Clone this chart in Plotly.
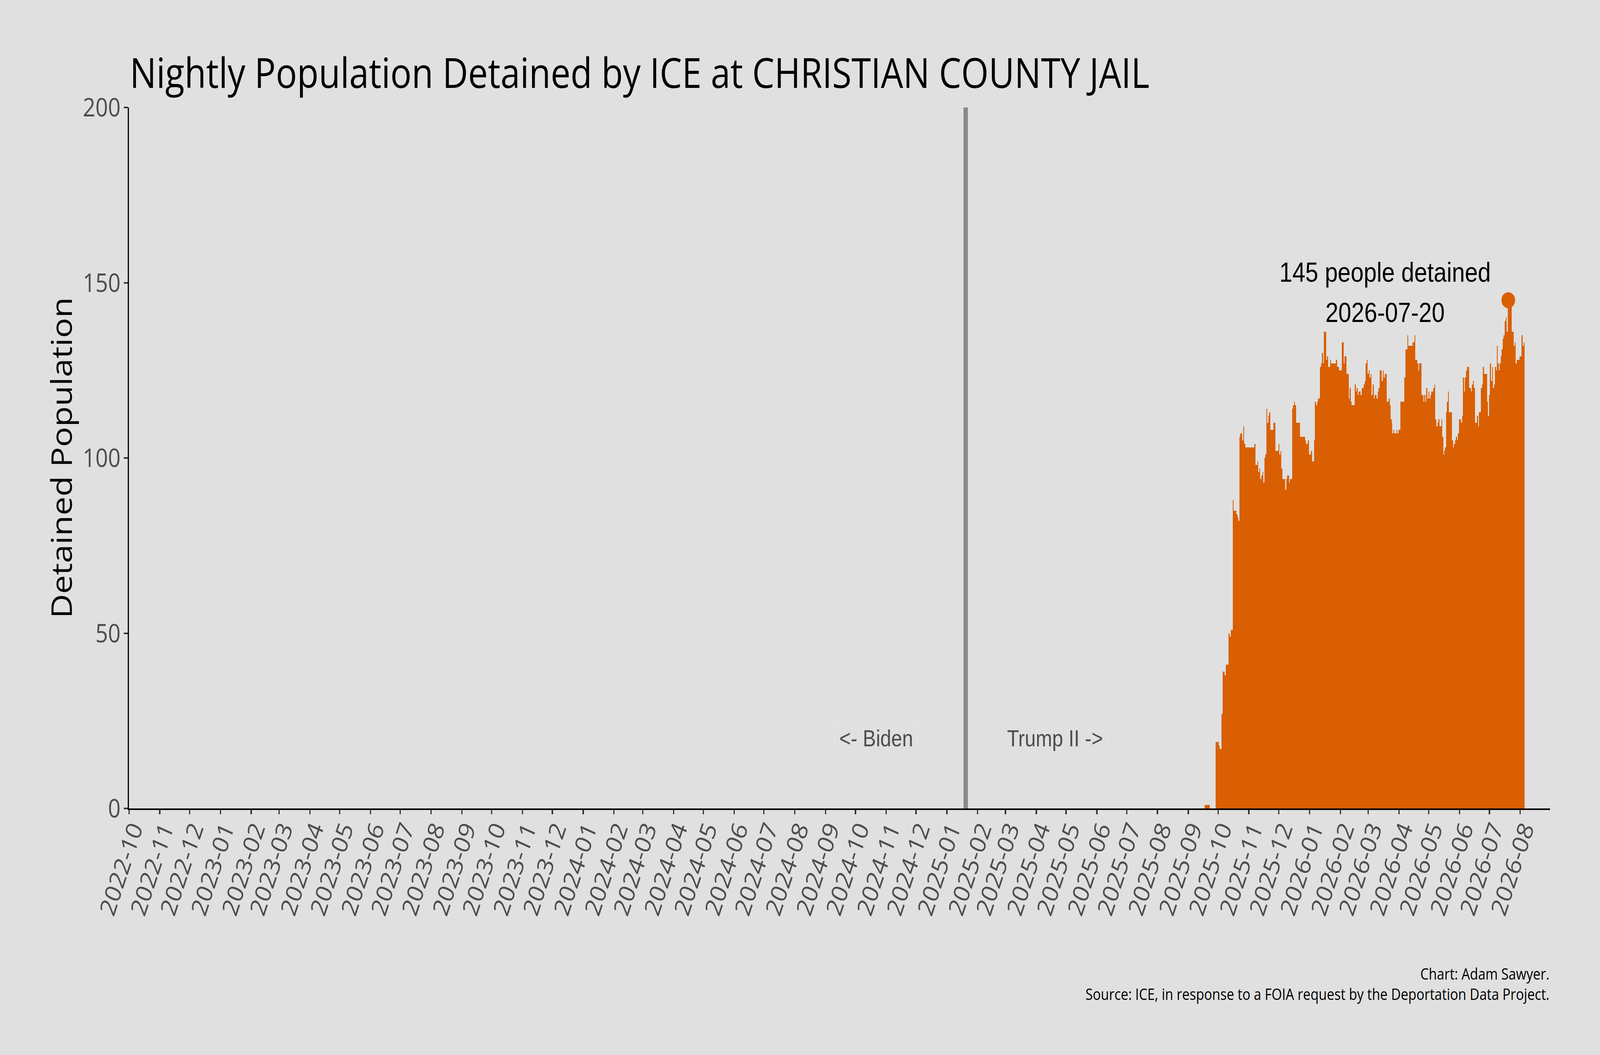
import pandas as pd
import plotly.graph_objects as go

# ---------------- data ----------------
first_date = "2025-09-18"
sep_2025 = [1, 1, 1, 1, 1, 0, 0, 0, 0, 0, 0, 19, 19]            # Sep 18 - Sep 30
oct_2025 = [19, 18, 17, 17, 27, 39, 39, 38, 41, 41, 41, 50, 49, 51, 51, 88,
            85, 85, 85, 84, 83, 82, 106, 107, 107, 105, 109, 104, 103, 103, 103]
nov_2025 = [103, 103, 103, 103, 103, 103, 104, 98, 98, 99, 96, 97, 94, 95, 96,
            93, 100, 101, 114, 110, 112, 113, 108, 108, 108, 110, 110, 102, 102, 102]
dec_2025 = [104, 101, 102, 97, 94, 94, 94, 91, 94, 95, 95, 93, 94, 94, 114, 115,
            116, 115, 110, 110, 110, 110, 106, 106, 106, 106, 106, 105, 104, 104, 105]
jan_2026 = [101, 101, 102, 99, 99, 105, 116, 115, 116, 117, 117, 126, 127, 130,
            127, 136, 136, 128, 129, 126, 126, 128, 127, 127, 127, 127, 127, 128,
            126, 126, 125]
feb_2026 = [125, 125, 133, 133, 127, 129, 129, 124, 124, 117, 120, 116, 115, 115,
            115, 121, 119, 120, 118, 119, 119, 118, 120, 120, 121, 122, 127, 128]
mar_2026 = [124, 125, 123, 124, 118, 121, 117, 118, 118, 117, 119, 120, 125, 125,
            122, 125, 123, 124, 124, 116, 116, 117, 115, 111, 110, 107, 108, 107,
            107, 108, 107]
apr_2026 = [108, 108, 116, 116, 116, 116, 123, 131, 131, 135, 132, 132, 132, 132,
            133, 133, 135, 128, 128, 127, 125, 127, 127, 118, 118, 116, 118, 116,
            120, 117]
may_2026 = [119, 117, 118, 119, 119, 120, 121, 111, 109, 110, 111, 109, 109, 111,
            106, 101, 102, 103, 113, 116, 119, 113, 113, 113, 105, 103, 104, 105,
            106, 105, 107]
jun_2026 = [111, 111, 110, 112, 123, 119, 123, 125, 126, 126, 120, 120, 119, 121,
            122, 120, 110, 110, 112, 109, 113, 113, 120, 121, 126, 124, 124, 124,
            116, 112]
jul_2026 = [118, 127, 122, 126, 120, 121, 126, 125, 132, 127, 125, 127, 129, 131,
            134, 135, 139, 140, 136, 145, 143, 143, 143, 136, 136, 132, 133, 127,
            128, 128, 128]
aug_2026 = [129, 129, 135, 132, 133]

population = (sep_2025 + oct_2025 + nov_2025 + dec_2025 + jan_2026 + feb_2026 +
              mar_2026 + apr_2026 + may_2026 + jun_2026 + jul_2026 + aug_2026)
dates = pd.date_range(first_date, periods=len(population), freq="D")

administration_change = "2025-01-20"
era_labels = ["<- Biden", "Trump II ->"]
era_label_dates = ["2024-10-22", "2025-04-20"]
era_label_value = 20

title_text = "Nightly Population Detained by ICE at CHRISTIAN COUNTY JAIL"
y_title = "Detained Population"
caption_lines = ["Chart: Adam Sawyer.",
                 "Source: ICE, in response to a FOIA request by the Deportation Data Project."]
peak_label_date = "2026-03-18"
peak_label_values = [152.9, 141.5]

x_range = ["2022-10-01", "2026-08-31"]
y_range = [0, 200]

# ---------------- styles ----------------
W, H = 4800, 2700
ORANGE = "#D95F02"
BG = "#E0E0E0"
SANS = "Open Sans"
ARIAL = "Liberation Sans"

peak_i = max(range(len(population)), key=lambda i: population[i])
peak_date = dates[peak_i]
peak_value = population[peak_i]

fig = go.Figure()
fig.add_trace(go.Bar(
    x=dates, y=population, width=86400000,
    marker=dict(color=ORANGE, line=dict(width=0)),
    hoverinfo="x+y",
))
fig.add_trace(go.Scatter(
    x=[peak_date], y=[peak_value], mode="markers",
    marker=dict(size=41, color=ORANGE, line=dict(width=0)),
))

fig.add_shape(type="line", xref="x", yref="y",
              x0=administration_change, x1=administration_change,
              y0=y_range[0], y1=y_range[1],
              line=dict(color="#888888", width=13), layer="below")

annotations = []
annotations.append(dict(text=title_text, xref="paper", yref="paper", x=0, y=1.051,
                        xanchor="left", yanchor="middle", showarrow=False,
                        font=dict(family=SANS, size=106, color="black")))
annotations.append(dict(text=y_title, xref="paper", yref="paper", x=-0.0482, y=0.5,
                        xanchor="center", yanchor="middle", textangle=-90, showarrow=False,
                        font=dict(family=SANS, size=86, color="black")))
for lab, d in zip(era_labels, era_label_dates):
    annotations.append(dict(text=lab, x=d, y=era_label_value, xref="x", yref="y",
                            xanchor="center", yanchor="middle", showarrow=False,
                            font=dict(family=ARIAL, size=59, color="#4D4D4D"),
                            bordercolor="#E4E4E4", borderwidth=2, borderpad=12))
peak_texts = [f"{peak_value} people detained", peak_date.strftime("%Y-%m-%d")]
for t, v in zip(peak_texts, peak_label_values):
    annotations.append(dict(text=t, x=peak_label_date, y=v, xref="x", yref="y",
                            xanchor="center", yanchor="middle", showarrow=False,
                            font=dict(family=ARIAL, size=70, color="black")))
annotations.append(dict(text="<br>".join(caption_lines), xref="paper", yref="paper",
                        x=1, y=-0.25, xanchor="right", yanchor="middle", align="right",
                        showarrow=False, font=dict(family=SANS, size=40, color="black")))

axis_common = dict(
    showline=True, linecolor="black", linewidth=4,
    ticks="outside", ticklen=11, tickwidth=4, tickcolor="#333333",
    tickfont=dict(family=SANS, size=66, color="#4D4D4D"),
    showgrid=False, zeroline=False,
)

fig.update_layout(
    width=W, height=H,
    paper_bgcolor=BG, plot_bgcolor=BG,
    margin=dict(l=387, r=150, t=275, b=631),
    showlegend=False, bargap=0,
    annotations=annotations,
    xaxis=dict(range=x_range, type="date", tickformat="%Y-%m", dtick="M1",
               tick0="2022-10-01", tickangle=-69,
               ticklabelstandoff=-25, ticklabelshift=12, **axis_common),
    yaxis=dict(range=y_range, dtick=50, ticklabelstandoff=-3, **axis_common),
)

# make the fixed-size figure exactly fill whatever viewport the page is opened in
fit_script = """
var gd = document.getElementById('{plot_id}');
var de = document.documentElement, b = document.body;
[de, b].forEach(function(e){ e.style.margin='0'; e.style.padding='0';
  e.style.overflow='hidden'; e.style.background='%s'; });
var wrap = gd.parentElement;
wrap.style.position='fixed'; wrap.style.left='0'; wrap.style.top='0';
wrap.style.width='100vw'; wrap.style.height='100vh'; wrap.style.overflow='hidden';
var sx = window.innerWidth / %d, sy = window.innerHeight / %d;
gd.style.transformOrigin='0 0';
gd.style.transform='scale(' + sx + ',' + sy + ')';
""" % (BG, W, H)

fig.write_html("out.html", post_script=fit_script,
               config={"displayModeBar": False})
